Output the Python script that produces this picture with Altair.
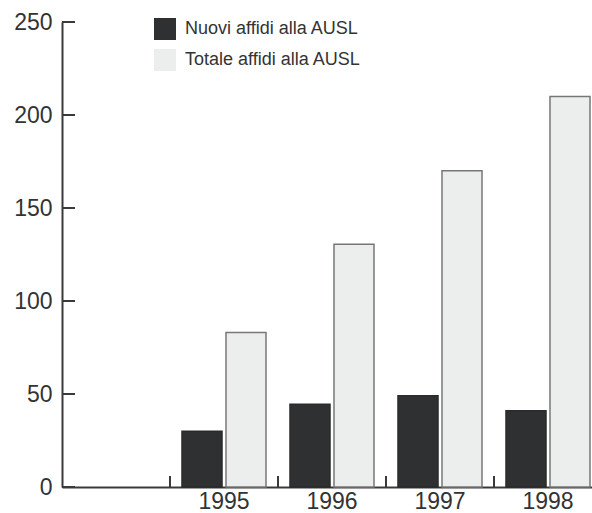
import altair as alt
import pandas as pd

categories = ["", "1995", "1996", "1997", "1998"]
years = ["1995", "1996", "1997", "1998"]
series = ["Nuovi affidi alla AUSL", "Totale affidi alla AUSL"]
nuovi = [30, 44.5, 49, 41]
totale = [83, 130.5, 170, 210]
y_ticks = [0, 50, 100, 150, 200, 250]

rows = []
for i, yr in enumerate(years):
    rows.append({"year": yr, "serie": series[0], "value": nuovi[i]})
    rows.append({"year": yr, "serie": series[1], "value": totale[i]})
df = pd.DataFrame(rows)
df_xt = pd.DataFrame({"year": years})
df_yt = pd.DataFrame({"v": y_ticks})

xscale = alt.Scale(domain=categories, range=[0, 540], paddingInner=0, paddingOuter=0)
yscale = alt.Scale(domain=[0, 250], nice=False)
axis_col = "#3a3a3a"
font = "Liberation Sans"

bars = alt.Chart(df).mark_bar(strokeWidth=1.5).encode(
    x=alt.X("year:N", scale=xscale, sort=categories,
            axis=alt.Axis(title=None, ticks=False, domainWidth=2, domainColor=axis_col,
                          labelFontSize=23, labelColor="#333333", labelPadding=3,
                          labelFont=font, labelAngle=0)),
    xOffset=alt.XOffset("serie:N", sort=series,
                        scale=alt.Scale(paddingInner=0.0909, paddingOuter=0.2727)),
    y=alt.Y("value:Q", scale=yscale,
            axis=alt.Axis(title=None, ticks=False, grid=False, values=y_ticks,
                          domainWidth=2, domainColor=axis_col, labelFontSize=23,
                          labelColor="#333333", labelPadding=10, labelFont=font)),
    fill=alt.Fill("serie:N", sort=series,
                  scale=alt.Scale(domain=series, range=["#2e3032", "#eceeee"]),
                  legend=alt.Legend(title=None, orient="none", legendX=92, legendY=-4,
                                    padding=0, symbolType="square", symbolSize=484,
                                    symbolStrokeWidth=0, rowPadding=9, labelOffset=9,
                                    labelFontSize=18, labelColor="#333333",
                                    labelFont=font, labelLimit=0)),
    stroke=alt.Stroke("serie:N", sort=series,
                      scale=alt.Scale(domain=series, range=["#2a2a2a", "#777777"]),
                      legend=None),
)

xticks = alt.Chart(df_xt).mark_rule(color=axis_col, strokeWidth=2).encode(
    x=alt.X("year:N", scale=xscale, sort=categories, bandPosition=0),
    y=alt.value(465),
    y2=alt.value(454),
)

yticks = alt.Chart(df_yt).mark_rule(color=axis_col, strokeWidth=2).encode(
    y=alt.Y("v:Q", scale=yscale),
    x=alt.value(0),
    x2=alt.value(13),
)

chart = alt.layer(bars, xticks, yticks).properties(
    width=530, height=465,
    autosize=alt.AutoSizeParams(type="none"),
    padding={"left": 62, "top": 22, "right": 0, "bottom": 26},
    background="white",
).configure_view(stroke=None)

chart.save("out.html", embed_options={"renderer": "svg", "actions": False})
